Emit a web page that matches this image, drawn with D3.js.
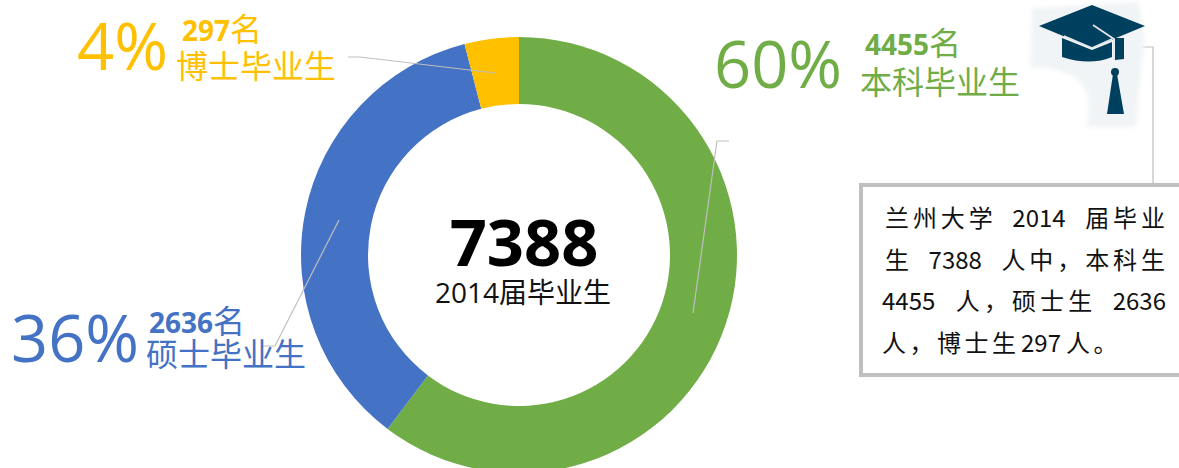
<!DOCTYPE html>
<html>
<head>
<meta charset="utf-8">
<script src="https://cdn.jsdelivr.net/npm/d3@7"></script>
<style>
  html, body { margin: 0; padding: 0; background: #fff; overflow: hidden; }
  text { font-family: "Open Sans", "Noto Sans CJK SC", sans-serif; }
  .cjk { font-family: "Noto Sans CJK SC", sans-serif; }
</style>
</head>
<body>
<div id="chart"></div>
<script>
// graduates of 2014, by degree
const categories = ["本科毕业生", "硕士毕业生", "博士毕业生"];
const counts = [4455, 2636, 297];
const percentLabels = ["60%", "36%", "4%"];
const countLabels = ["4455名", "2636名", "297名"];
const colors = ["#70ad47", "#4472c4", "#ffc000"];
const totalLabel = "7388";
const totalCaption = "2014届毕业生";
const noteLines = [
  "兰州大学 2014 届毕业",
  "生 7388 人中，本科生",
  "4455 人，硕士生 2636",
  "人，博士生 297 人。"
];

const width = 1179, height = 468;
const cx = 519, cy = 255, outer = 218, inner = 151;

const svg = d3.select("#chart").append("svg")
  .attr("width", width)
  .attr("height", height);

svg.append("defs").append("filter")
  .attr("id", "soft")
  .append("feGaussianBlur")
  .attr("stdDeviation", 0.6);
svg.select("defs").append("filter")
  .attr("id", "softer")
  .append("feGaussianBlur")
  .attr("stdDeviation", 2);

// donut
const pie = d3.pie().sort(null);
const arc = d3.arc().innerRadius(inner).outerRadius(outer);

svg.append("g")
  .attr("transform", `translate(${cx},${cy})`)
  .selectAll("path")
  .data(pie(counts))
  .join("path")
  .attr("d", arc)
  .attr("fill", (d, i) => colors[i]);

// leader lines
const leaders = [
  [[729, 141], [717, 141], [693, 313]],
  [[339, 220], [275, 346], [262, 346]],
  [[348, 57], [360, 57], [495, 73]],
  [[1140, 47], [1153, 47], [1153, 184]]
];
svg.append("g")
  .selectAll("path")
  .data(leaders)
  .join("path")
  .attr("d", d3.line())
  .attr("fill", "none")
  .attr("stroke", "#bfbfbf")
  .attr("stroke-width", 1.2);

// centre
svg.append("text")
  .attr("x", cx + 5).attr("y", 266)
  .attr("text-anchor", "middle")
  .attr("font-size", 65)
  .attr("font-weight", 700)
  .attr("fill", "#000")
  .text(totalLabel);

svg.append("text")
  .attr("x", cx + 4).attr("y", 303)
  .attr("text-anchor", "middle")
  .attr("font-size", 28)
  .attr("fill", "#111")
  .text(totalCaption);

// labels for each slice
const labelPos = [
  { pctX: 714, pctY: 88, numX: 865, numY: 55, catX: 860, catY: 94 },
  { pctX: 11, pctY: 362, numX: 149, numY: 333, catX: 146, catY: 366 },
  { pctX: 77, pctY: 70, numX: 182, numY: 41, catX: 176, catY: 78 }
];

const labels = svg.append("g")
  .selectAll("g")
  .data(categories)
  .join("g")
  .attr("fill", (d, i) => colors[i]);

labels.append("text")
  .attr("x", (d, i) => labelPos[i].pctX)
  .attr("y", (d, i) => labelPos[i].pctY)
  .attr("font-size", 65)
  .text((d, i) => percentLabels[i]);

labels.append("text")
  .attr("x", (d, i) => labelPos[i].numX)
  .attr("y", (d, i) => labelPos[i].numY)
  .attr("font-size", 28)
  .attr("font-weight", 700)
  .each(function (d, i) {
    // digits are bold, the 名 is lighter and a bit larger
    const digits = countLabels[i].slice(0, -1);
    d3.select(this).append("tspan").text(digits);
    d3.select(this).append("tspan")
      .attr("font-weight", 400)
      .attr("font-size", 32)
      .text("名");
  });

labels.append("text")
  .attr("x", (d, i) => labelPos[i].catX)
  .attr("y", (d, i) => labelPos[i].catY)
  .attr("font-size", 32)
  .text((d) => d);

// note box
svg.append("rect")
  .attr("x", 861).attr("y", 185)
  .attr("width", 330).attr("height", 190)
  .attr("fill", "#fff")
  .attr("stroke", "#bfbfbf")
  .attr("stroke-width", 4);

// each line is justified by hand: digit runs keep their normal spacing,
// only the gaps between glyphs and at the spaces stretch
const noteRows = [
  { x: 885, y: 227, right: 1165 },
  { x: 885, y: 269, right: 1165 },
  { x: 882, y: 310, right: 1166 },
  { x: 882, y: 352, gap: 3.5, space: 5 }
];
const noteG = svg.append("g").attr("fill", "#111").attr("font-size", 24);

noteLines.forEach((line, row) => {
  const tokens = line.match(/\d+|\s|[^\d\s]/g);
  const nodes = [];
  tokens.forEach((t) => {
    if (t === " ") {
      nodes.push({ space: true });
    } else {
      const el = noteG.append("text")
        .attr("class", "cjk")
        .attr("y", noteRows[row].y)
        .text(t);
      nodes.push({ el, w: el.node().getComputedTextLength() });
    }
  });

  const glyphs = nodes.filter((n) => !n.space);
  const spaces = nodes.length - glyphs.length;
  const plain = glyphs.length - 1 - spaces;
  const used = d3.sum(glyphs, (n) => n.w);
  const spaceWeight = 5;

  let gap = noteRows[row].gap;
  let spaceGap = noteRows[row].space;
  if (noteRows[row].right) {
    gap = (noteRows[row].right - noteRows[row].x - used) / (plain + spaces * spaceWeight);
    spaceGap = gap * spaceWeight;
  }

  let x = noteRows[row].x;
  let pendingSpace = false;
  nodes.forEach((n, i) => {
    if (n.space) {
      pendingSpace = true;
      return;
    }
    if (i > 0) x += pendingSpace ? spaceGap : gap;
    pendingSpace = false;
    n.el.attr("x", x);
    x += n.w;
  });
});

// graduation cap
const cap = svg.append("g");
cap.append("path")
  .attr("d", "M1032,8 L1138,2 Q1148,40 1142,60 L1136,127 L1086,127 Q1096,92 1072,76 Q1050,66 1030,68 Z")
  .attr("fill", "#f1f4f6")
  .attr("filter", "url(#softer)");
const capMark = cap.append("g").attr("filter", "url(#soft)");
capMark.append("path")
  .attr("d", "M1062,38 L1092,50 L1112,42 L1112,57 Q1090,66 1062,57 Z")
  .attr("fill", "#063f5f");
capMark.append("path")
  .attr("d", "M1115,38 L1124,38 L1124,59 L1115,60 Z")
  .attr("fill", "#063f5f");
capMark.append("path")
  .attr("d", "M1092,5 L1145,26 L1092,48 L1039,26 Z")
  .attr("fill", "#063f5f");
capMark.append("path")
  .attr("d", "M1064,36 L1092,48 L1112,39 M1093,25 L1114,39 L1114,60")
  .attr("fill", "none")
  .attr("stroke", "#e3e9ec")
  .attr("stroke-width", 1.6);
capMark.append("circle")
  .attr("cx", 1115).attr("cy", 72).attr("r", 4)
  .attr("fill", "#063f5f");
capMark.append("path")
  .attr("d", "M1113,74 L1117,74 L1124,114 L1107,114 Z")
  .attr("fill", "#063f5f");
</script>
</body>
</html>
